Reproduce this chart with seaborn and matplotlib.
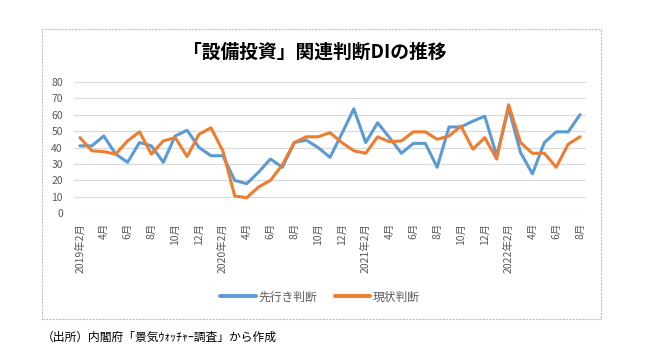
import numpy as np
import pandas as pd
import matplotlib
matplotlib.use("Agg")
import matplotlib.pyplot as plt
import seaborn as sns
from matplotlib.patches import Rectangle

# 2019年2月 .. 2022年8月 (monthly)
months = pd.period_range("2019-02", "2022-08", freq="M")

outlook_di = [41, 41, 47, 36, 31, 43, 41, 31, 47, 50.5, 40, 35, 35, 20, 18, 25, 33, 28,
              43, 44.5, 40, 34, 48.5, 63.5, 43, 55, 46, 36.5, 42.5, 42.5, 28, 52.5, 52.5,
              56, 59, 35, 64, 37, 24, 43, 49.5, 49.5, 60]
current_di = [46, 38, 37.5, 36, 44, 49.5, 36, 44, 46, 34.5, 48, 52, 38, 10.5, 9.5, 16, 20,
              29.5, 43, 46.5, 46.5, 49, 43, 38, 36.5, 46.5, 43.5, 44, 49.5, 49.5, 45, 47,
              53, 39, 46, 33, 66, 43, 36.5, 36.5, 28, 42, 46.5]

series_names = ["先行き判断", "現状判断"]
series_colors = ["#5B9BD5", "#ED7D31"]

title = "「設備投資」関連判断DIの推移"
source = "（出所）内閣府「景気ｳｫｯﾁｬｰ調査」から作成"

tick_labels = [f"{m.year}年{m.month}月" if m.month == 2 else f"{m.month}月" for m in months]

df = pd.DataFrame({
    "idx": np.tile(np.arange(len(months)), 2),
    "value": outlook_di + current_di,
    "series": np.repeat(series_names, len(months)),
})

sns.set_theme(style="white")
plt.rcParams["font.family"] = ["Noto Sans CJK JP", "DejaVu Sans"]

fig = plt.figure(figsize=(6.51, 3.60), dpi=100)
ax = fig.add_axes([74 / 651, 1 - 213.3 / 360, 512 / 651, 131.6 / 360])

sns.lineplot(data=df, x="idx", y="value", hue="series", hue_order=series_names,
             palette=series_colors, linewidth=2.2, ax=ax, legend=True)

ax.set_xlim(-0.5, len(months) - 0.5)
ax.set_ylim(0, 80)
ax.set_yticks(range(0, 81, 10))
ax.set_xticks(range(0, len(months), 2))
ax.set_xticklabels(tick_labels[::2], rotation=90, fontsize=7.5, color="#595959")
ax.tick_params(axis="y", labelsize=7.5, labelcolor="#595959", length=0, pad=8)
ax.tick_params(axis="x", length=0, pad=7)
ax.grid(axis="y", color="#D9D9D9", linewidth=0.8)
ax.set_axisbelow(True)
ax.set_xlabel("")
ax.set_ylabel("")
for s in ax.spines.values():
    s.set_visible(False)

leg = ax.legend(loc="center", ncol=2, frameon=False, fontsize=8.5, handlelength=3.0,
                columnspacing=1.5, handletextpad=0.2)
leg.set_bbox_to_anchor((320 / 651, 1 - 297 / 360), transform=fig.transFigure)
for t in leg.get_texts():
    t.set_color("#595959")
for h in leg.get_lines():
    h.set_linewidth(2.8)

fig.text(315 / 651, 1 - 52 / 360, title, ha="center", va="center",
         fontsize=13.5, fontweight="bold", color="#000000")
fig.text(42 / 651, 1 - 337 / 360, source, ha="left", va="center", fontsize=8.5, color="#000000")

fig.patches.append(Rectangle((42 / 651, 1 - 319 / 360), 559 / 651, 290 / 360,
                             transform=fig.transFigure, fill=False, edgecolor="#BFBFBF",
                             linewidth=0.8, linestyle=(0, (2, 1))))

fig.savefig("out.png", dpi=100, facecolor="white")
